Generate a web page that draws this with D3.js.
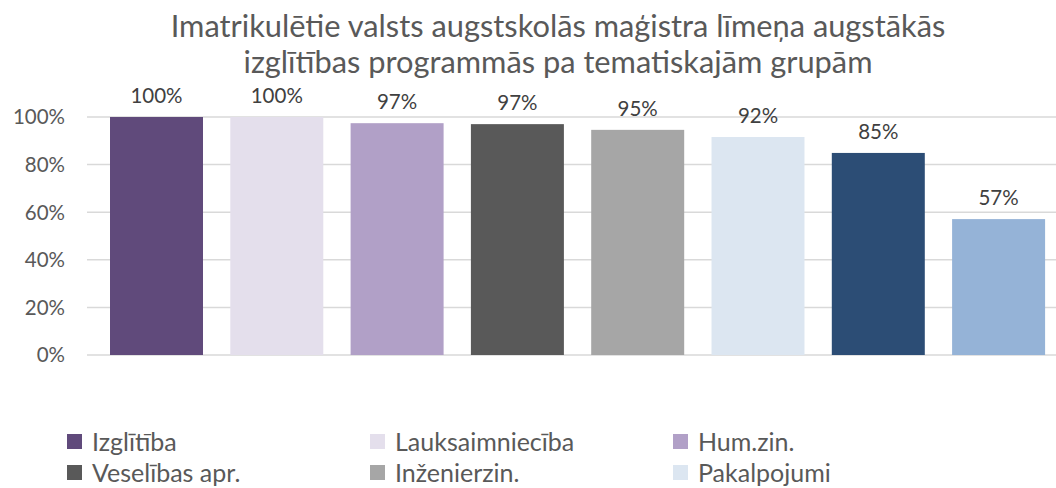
<!DOCTYPE html>
<html><head><meta charset="utf-8">
<script src="https://cdn.jsdelivr.net/npm/d3@7"></script>
<style>body{margin:0;background:#fff;}svg{display:block;font-family:Lato,"Open Sans",sans-serif;}</style>
</head><body><svg id="c" width="1056" height="488"></svg>
<script>
const categories = ["Izglītība","Lauksaimniecība","Hum.zin.","Veselības apr.","Inženierzin.","Pakalpojumi","Sociālās zin.","Dabaszin."];
const values = [100, 100, 97.4, 97.0, 94.6, 91.6, 84.9, 57.1];
const colors = ["#604A7B","#E4DFEC","#B1A0C7","#595959","#A6A6A6","#DCE6F1","#2C4D75","#95B3D7"];
const yTicks = [0, 20, 40, 60, 80, 100];
const titleLines = ["Imatrikulētie valsts augstskolās maģistra līmeņa augstākās","izglītības programmās pa tematiskajām grupām"];
const legendItems = categories.slice(0, 6);

const svg = d3.select("#c");
const x = d3.scaleBand().domain(categories).range([96.35, 1058.75]).paddingInner(0.227).paddingOuter(0.1135);
const y = d3.scaleLinear().domain([0, 100]).range([355, 117]);

svg.append("g").selectAll("text").data(titleLines).join("text")
  .attr("x", 558).attr("y", (d,i)=>37 + i*36).attr("text-anchor","middle")
  .attr("font-size", 30.8).attr("fill", "#595959").text(d=>d);

svg.append("g").selectAll("line").data(yTicks).join("line")
  .attr("x1", 87).attr("x2", 1056).attr("y1", d=>y(d)).attr("y2", d=>y(d))
  .attr("stroke", "#D9D9D9").attr("stroke-width", 1.5);

svg.append("g").selectAll("text").data(yTicks).join("text")
  .attr("x", 65).attr("y", d=>y(d)).attr("dy","0.36em").attr("text-anchor","end")
  .attr("font-size", 20.5).attr("fill", "#595959").text(d=>d+"%");

svg.append("g").selectAll("rect").data(values).join("rect")
  .attr("x", (d,i)=>x(categories[i])).attr("width", x.bandwidth())
  .attr("y", d=>y(d)).attr("height", d=>y(0)-y(d)).attr("fill",(d,i)=>colors[i]);

svg.append("g").selectAll("text").data(values).join("text")
  .attr("x", (d,i)=>x(categories[i]) + x.bandwidth()/2).attr("y", d=>y(d)-14)
  .attr("text-anchor","middle").attr("font-size", 20.5).attr("fill","#404040")
  .text(d=>Math.round(d)+"%");

const lg = svg.append("g").selectAll("g").data(legendItems).join("g")
  .attr("transform",(d,i)=>`translate(${67 + (i%3)*303},${451 + Math.floor(i/3)*31})`);
lg.append("rect").attr("x",0).attr("y",-17).attr("width",15).attr("height",15)
  .attr("fill",(d,i)=>colors[i]);
lg.append("text").attr("x",25).attr("y",0)
  .attr("font-size",25).attr("fill","#595959").text(d=>d);
</script></body></html>
